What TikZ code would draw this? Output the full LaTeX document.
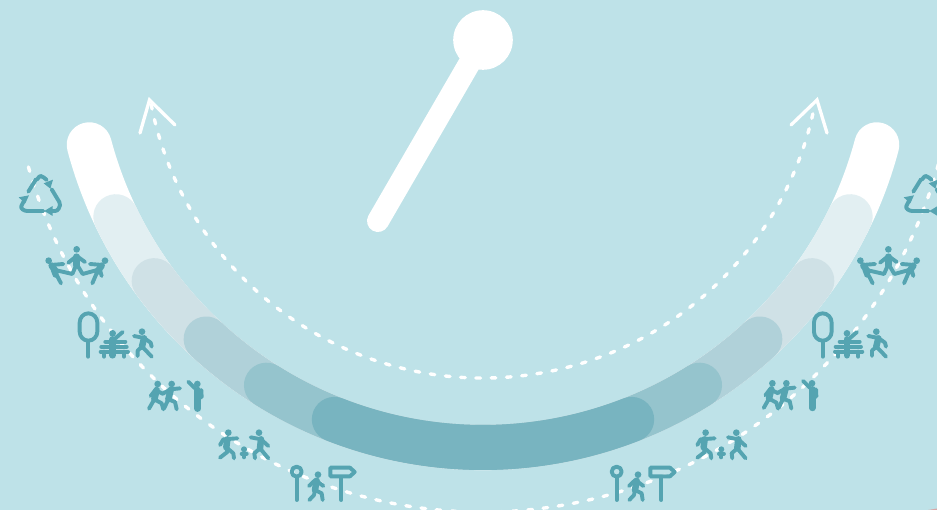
\documentclass[tikz,border=0pt]{standalone}
\definecolor{bgc}{HTML}{BEE2E8}
\definecolor{iconc}{HTML}{55A4B1}
\definecolor{segA}{HTML}{E2EFF2}
\definecolor{segB}{HTML}{CFE1E6}
\definecolor{segC}{HTML}{B0D1D9}
\definecolor{segD}{HTML}{95C4CD}
\definecolor{segE}{HTML}{78B4C0}
\definecolor{cornerc}{HTML}{D8A8A8}
\tikzset{
  band/.style={line width=45pt,line cap=round},
  dashline/.style={white,line width=3.4pt,line cap=round,dash pattern=on 4.6pt off 10.7pt},
  tip/.style={white,line width=3.3pt,line cap=round,line join=miter},
  ln/.style={iconc,line width=3.9pt,line cap=round,line join=round},
  thick body/.style={iconc,line width=6.5pt,line cap=round,line join=round},
  head/.style={iconc,fill=iconc,draw=none},
  recycle/.pic={
    \draw[ln] (85,125) -- (108,88) to[out=-60,in=180] (122,78) to[out=0,in=150] (140,90);
    \fill[head] (131,100) -- (159,89) -- (151,116) -- cycle;
    \draw[ln] (155,118) -- (178,156) to[out=-60,in=60] (176,176) to[out=-120,in=0] (165,183) -- (150,183);
    \fill[head] (133,183) -- (158,168) -- (158,198) -- cycle;
    \draw[ln] (130,183) -- (82,183) to[out=180,in=-110] (64,168) to[out=70,in=-120] (73,150);
    \fill[head] (56,142) -- (87,136) -- (76,160) -- cycle;
  },
  trio/.pic={
    \fill[head] (230,298) circle (10) (146,332) circle (10) (315,332) circle (10);
    \draw[thick body] (230,320) -- (230,345);
    \draw[ln] (205,338) -- (230,318) -- (255,336);
    \draw[ln] (230,342) -- (217,372) -- (165,360);
    \draw[ln] (152,345) -- (190,342);
    \draw[ln] (165,365) -- (183,400);
    \draw[ln] (158,360) -- (165,378);
    \draw[ln] (230,342) -- (248,372) -- (292,360);
    \draw[ln] (308,345) -- (270,342);
    \draw[ln] (292,365) -- (277,400);
    \draw[ln] (300,360) -- (305,378);
    \draw[thick body] (155,347) -- (168,365);
    \draw[thick body] (305,347) -- (292,365);
  },
  benchgroup/.pic={
    \draw[ln] (265,490) to[out=0,in=90] (292,518) -- (292,545) to[out=-90,in=0] (265,572) to[out=180,in=-90] (239,545) -- (239,518) to[out=90,in=180] cycle;
    \draw[ln] (265,575) -- (265,620);
    \fill[head] (338,550) circle (10);
    \draw[thick body] (338,568) -- (338,616);
    \draw[ln] (345,566) -- (368,546);
    \draw[ln] (316,575) -- (376,575) (304,590) -- (380,590) (302,605) -- (384,605);
    \draw[ln] (312,605) -- (312,620) (372,605) -- (372,620);
    \fill[head] (426,545) circle (10);
    \draw[thick body] (432,565) -- (426,590);
    \draw[ln] (402,558) -- (432,564) -- (452,578) -- (455,590);
    \draw[ln] (426,590) -- (413,602) -- (413,618);
    \draw[ln] (426,590) -- (440,604) -- (455,620);
  },
  pairraised/.pic={
    \fill[head] (83,72) circle (10) (125,72) circle (10) (202,72) circle (10);
    \draw[thick body] (80,90) -- (73,118);
    \draw[ln] (62,108) -- (76,90) -- (100,102);
    \draw[ln] (73,118) -- (57,146);
    \draw[ln] (73,118) -- (95,130) -- (100,148);
    \draw[thick body] (122,90) -- (115,118);
    \draw[ln] (100,100) -- (122,88) -- (150,85);
    \draw[ln] (115,118) -- (102,146);
    \draw[ln] (115,118) -- (135,126) -- (140,148);
    \draw[ln] (175,65) -- (195,85);
    \draw[iconc,line width=6.5pt,line cap=round] (203,90) -- (203,146);
    \draw[ln] (214,90) -- (215,112);
  },
  family/.pic={
    \fill[head] (295,218) circle (10) (387,218) circle (10) (342,268) circle (9);
    \draw[thick body] (292,238) -- (289,262);
    \draw[ln] (270,255) -- (280,238) -- (322,235);
    \draw[ln] (289,262) -- (292,276) -- (270,293);
    \draw[ln] (289,262) -- (310,280) -- (312,295);
    \draw[thick body] (393,238) -- (390,265);
    \draw[ln] (362,232) -- (393,238) -- (415,258);
    \draw[ln] (390,265) -- (373,280) -- (375,295);
    \draw[ln] (390,265) -- (415,295);
    \draw[ln] (335,281) -- (350,281) (342,280) -- (342,292);
  },
  polegroup/.pic={
    \draw[ln] (500,335) circle (15);
    \draw[ln] (500,352) -- (500,420);
    \fill[head] (564,344) circle (10);
    \draw[thick body] (560,362) -- (555,390);
    \draw[ln] (537,378) -- (556,360) -- (580,378);
    \draw[ln] (555,390) -- (552,405) -- (538,420);
    \draw[ln] (555,390) -- (575,400) -- (578,420);
    \draw[ln] (601,323) -- (660,323) -- (674,336) -- (660,349) -- (601,349) -- cycle;
    \draw[ln] (634,352) -- (634,420);
  }
}
\newcommand{\putpic}[3]{\begin{scope}[shift={(#1,#2)},x=0.33333pt,y=-0.33333pt]\pic {#3};\end{scope}}
\begin{document}
\begin{tikzpicture}[x=1pt,y=-1pt]
\useasboundingbox (0,0) rectangle (937,510);
\fill[bgc] (0,0) rectangle (937,510);
\begin{scope}
\clip (0,0) rectangle (937,510);
\coordinate (c) at (483,40);
\coordinate (needleend) at (378,221);
% scale band, drawn from the outside in
\draw[band,white] (c) ++(165.1:407.5) arc[start angle=165.1,end angle=14.9,radius=407.5];
\draw[band,segA] (c) ++(154.3:407.5) arc[start angle=154.3,end angle=25.7,radius=407.5];
\draw[band,segB] (c) ++(143.8:407.5) arc[start angle=143.8,end angle=36.2,radius=407.5];
\draw[band,segC] (c) ++(132.8:407.5) arc[start angle=132.8,end angle=47.2,radius=407.5];
\draw[band,segD] (c) ++(122.1:407.5) arc[start angle=122.1,end angle=57.9,radius=407.5];
\draw[band,segE] (c) ++(111.4:407.5) arc[start angle=111.4,end angle=68.6,radius=407.5];
% inner dashed arc and arrows
\draw[dashline] (c) ++(169:338) arc[start angle=169,end angle=11,radius=338];
\coordinate (tl) at (149.5,100); \coordinate (tr) at (817,100);
\draw[tip] (140,133) -- (tl) -- (175,125);
\draw[tip] (827,133) -- (tr) -- (791,125);
% outer dashed arc
\draw[dashline] (c) ++(164.4:472) arc[start angle=164.4,end angle=13,radius=472];
% needle
\draw[white,line width=22pt,line cap=round] (c) -- (needleend);
\fill[white] (c) circle (29.8);
% corner sliver at the lower right
\fill[cornerc] (928,510) -- (937,508.5) -- (937,510) -- cycle;
% icons
\putpic{0}{150}{recycle}
\putpic{885}{150}{recycle}
\putpic{0}{150}{trio}
\putpic{811.7}{150}{trio}
\putpic{0}{150}{benchgroup}
\putpic{734.3}{150}{benchgroup}
\putpic{130}{360}{pairraised}
\putpic{744.7}{359.3}{pairraised}
\putpic{130}{360}{family}
\putpic{607.3}{360}{family}
\putpic{130}{360}{polegroup}
\putpic{450}{360}{polegroup}
\end{scope}
\end{tikzpicture}
\end{document}
